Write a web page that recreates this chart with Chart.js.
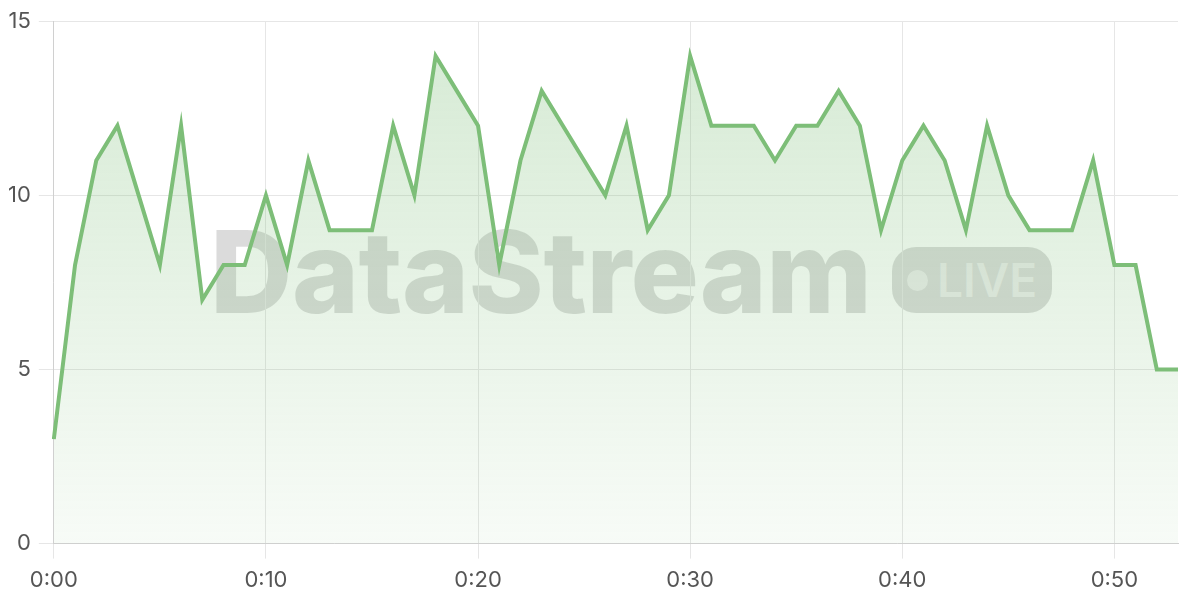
<!DOCTYPE html>
<html>
<head>
<meta charset="utf-8">
<script src="https://cdn.jsdelivr.net/npm/chart.js@4"></script>
<style>
  html, body { margin: 0; padding: 0; background: #fff; }
  #wrap { position: relative; width: 1200px; height: 600px; }
  #chart { position: absolute; left: 0; top: 0; }
  .wm-name {
    position: absolute; left: 210px; top: 215px;
    font-family: Inter, "Noto Sans", sans-serif; font-weight: 800;
    font-size: 114px; line-height: 1; letter-spacing: -0.5px;
    color: rgba(0, 0, 0, 0.14); white-space: nowrap;
  }
  .wm-badge {
    position: absolute; left: 892px; top: 247px; width: 160px; height: 66px;
    border-radius: 24px; background: rgba(0, 0, 0, 0.14);
  }
  .wm-dot {
    position: absolute; left: 15px; top: 23px; width: 21px; height: 21px;
    border-radius: 50%; background: rgba(255, 255, 255, 0.5);
  }
  .wm-live {
    position: absolute; left: 45px; top: 10px;
    font-family: Inter, "Noto Sans", sans-serif; font-weight: 600;
    font-size: 46px; line-height: 1; color: rgba(255, 255, 255, 0.5);
  }
</style>
</head>
<body>
<div id="wrap">
  <div class="wm-name">DataStream</div>
  <div class="wm-badge"><span class="wm-dot"></span><span class="wm-live">LIVE</span></div>
  <canvas id="chart" width="1200" height="600"></canvas>
</div>
<script>
// Minutes elapsed, one point per minute
const timeLabels = [
  '0:00', '0:01', '0:02', '0:03', '0:04', '0:05', '0:06', '0:07', '0:08', '0:09',
  '0:10', '0:11', '0:12', '0:13', '0:14', '0:15', '0:16', '0:17', '0:18', '0:19',
  '0:20', '0:21', '0:22', '0:23', '0:24', '0:25', '0:26', '0:27', '0:28', '0:29',
  '0:30', '0:31', '0:32', '0:33', '0:34', '0:35', '0:36', '0:37', '0:38', '0:39',
  '0:40', '0:41', '0:42', '0:43', '0:44', '0:45', '0:46', '0:47', '0:48', '0:49',
  '0:50', '0:51', '0:52', '0:53'
];

const streamValues = [
  3, 8, 11, 12, 10, 8, 12, 7, 8, 8,
  10, 8, 11, 9, 9, 9, 12, 10, 14, 13,
  12, 8, 11, 13, 12, 11, 10, 12, 9, 10,
  14, 12, 12, 12, 11, 12, 12, 13, 12, 9,
  11, 12, 11, 9, 12, 10, 9, 9, 9, 11,
  8, 8, 5, 5
];

const yTicks = [0, 5, 10, 15];

const LINE_COLOR = 'rgb(125, 190, 120)';

function areaGradient(context) {
  const chart = context.chart;
  const area = chart.chartArea;
  if (!area) return 'rgba(125, 190, 120, 0.2)';
  const g = chart.ctx.createLinearGradient(0, area.top, 0, area.bottom);
  g.addColorStop(0, 'rgba(125, 190, 120, 0.32)');
  g.addColorStop(1, 'rgba(125, 190, 120, 0.06)');
  return g;
}

new Chart(document.getElementById('chart'), {
  type: 'line',
  data: {
    labels: timeLabels,
    datasets: [{
      data: streamValues,
      borderColor: LINE_COLOR,
      borderWidth: 4,
      backgroundColor: areaGradient,
      fill: 'origin',
      tension: 0,
      pointRadius: 0
    }]
  },
  options: {
    responsive: false,
    animation: false,
    layout: { padding: { top: 12, right: 22, left: 0, bottom: -3 } },
    plugins: { legend: { display: false }, tooltip: { enabled: false } },
    scales: {
      x: {
        grid: { color: '#e6e6e6', tickLength: 15 },
        border: { color: '#d0d0d0' },
        ticks: {
          autoSkip: false,
          maxRotation: 0,
          padding: 9,
          color: '#555',
          font: { family: 'Inter', size: 22 },
          callback: function(value, index) {
            return index % 10 === 0 ? timeLabels[index] : null;
          }
        }
      },
      y: {
        min: yTicks[0],
        max: yTicks[yTicks.length - 1],
        afterBuildTicks: function(axis) {
          axis.ticks = yTicks.map(v => ({ value: v }));
        },
        grid: { color: '#e6e6e6', tickLength: 15 },
        border: { color: '#d0d0d0' },
        ticks: {
          color: '#555',
          padding: 8,
          font: { family: 'Inter', size: 22 }
        }
      }
    }
  }
});
</script>
</body>
</html>
